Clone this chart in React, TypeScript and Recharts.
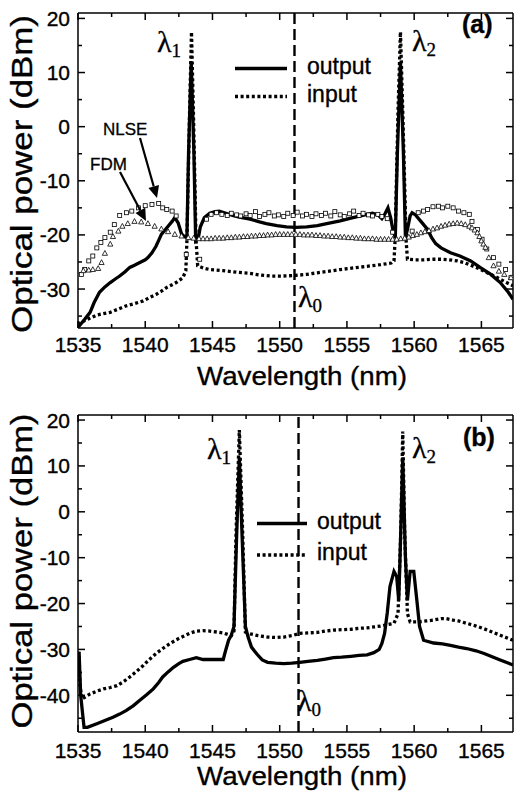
import { ComposedChart, Line, ReferenceLine, Scatter, XAxis, YAxis } from 'recharts';

// Spectra are [wavelength nm, power dBm] pairs.
const outputA = [
  [1535.0, -37.0], [1535.1, -36.8], [1535.5, -35.6], [1535.9, -34.3], [1536.2, -32.5], [1536.6, -30.6],
  [1537.0, -29.6], [1537.4, -28.8], [1537.8, -28.1], [1538.1, -27.6], [1538.5, -26.8], [1538.85, -26.0],
  [1539.2, -25.6], [1539.6, -25.1], [1540.0, -24.6], [1540.2, -24.2], [1540.5, -23.3], [1540.8, -22.1],
  [1541.0, -21.0], [1541.2, -19.9], [1541.5, -19.0], [1541.7, -18.4], [1542.0, -17.5], [1542.2, -16.8],
  [1542.45, -17.8], [1542.7, -19.8], [1542.9, -20.3], [1543.1, -20.5], [1543.22, -5], [1543.42, 12],
  [1543.62, -5], [1543.75, -21], [1543.95, -20.5], [1544.1, -18.5], [1544.4, -16.8], [1544.8, -16.0],
  [1545.2, -15.7], [1545.5, -15.6], [1546.0, -16.0], [1546.5, -16.4], [1547.0, -16.7], [1547.8, -17.1],
  [1548.5, -17.6], [1549.0, -17.9], [1549.8, -18.3], [1550.5, -18.5], [1551.2, -18.6], [1552.0, -18.5],
  [1552.8, -18.3], [1553.5, -17.9], [1554.5, -17.4], [1555.3, -16.9], [1556.0, -16.5], [1556.5, -16.2],
  [1556.9, -16.0], [1557.3, -16.3], [1557.6, -17.0], [1557.85, -16.0], [1558.05, -15.0], [1558.25, -16.8],
  [1558.45, -19.5], [1558.6, -20.3], [1558.75, -5], [1558.98, 12], [1559.2, -5], [1559.35, -20.5],
  [1559.5, -19.0], [1559.7, -16.5], [1559.85, -15.9], [1560.1, -16.3], [1560.5, -17.5], [1561.0, -19.0],
  [1561.3, -20.5], [1561.6, -21.6], [1562.0, -22.4], [1562.7, -23.3], [1563.4, -23.9], [1564.2, -24.8],
  [1564.9, -26.0], [1565.7, -27.3], [1566.4, -28.8], [1567.0, -30.6], [1567.35, -31.9],
];

const inputA = [
  [1535.0, -36.6], [1535.1, -36.3], [1535.7, -35.6], [1536.4, -34.8], [1537.4, -34.3], [1538.0, -33.7],
  [1538.6, -33.1], [1539.2, -32.7], [1539.85, -32.2], [1540.3, -31.6], [1540.8, -31.0], [1541.2, -30.4],
  [1541.6, -29.7], [1542.0, -29.2], [1542.3, -28.8], [1542.8, -27.9], [1543.02, -26.6], [1543.1, -21.0],
  [1543.3, 3], [1543.44, 17.5], [1543.58, 3], [1543.78, -21.0], [1543.9, -25.7], [1544.3, -26.1],
  [1544.8, -26.4], [1545.8, -26.6], [1546.8, -26.9], [1547.8, -27.1], [1548.5, -27.4], [1549.3, -27.6],
  [1550.2, -27.6], [1551.1, -27.5], [1552.0, -27.3], [1552.8, -27.0], [1553.7, -26.7], [1554.5, -26.4],
  [1555.5, -26.1], [1556.5, -25.8], [1557.5, -25.5], [1558.3, -25.2], [1558.5, -24.8], [1558.58, -21.0],
  [1558.8, 3], [1558.98, 17.5], [1559.15, 3], [1559.4, -21.0], [1559.5, -24.5], [1560.0, -24.6],
  [1560.7, -24.6], [1561.4, -24.5], [1562.0, -24.5], [1562.6, -24.6], [1563.2, -24.8], [1563.7, -25.1],
  [1564.2, -25.6], [1564.7, -26.1], [1565.2, -26.7], [1565.7, -27.3], [1566.2, -27.9], [1566.7, -28.6],
  [1567.35, -29.4],
];

// simulated spectra: NLSE (squares) and FDM (triangles)
const nlseA = [
  [1535.25, -27.3], [1535.5, -26.4], [1535.8, -24.8], [1536.1, -23.9], [1536.4, -22.4], [1536.7, -21.4],
  [1537.0, -20.5], [1537.4, -19.5], [1537.7, -18.1], [1538.1, -16.4], [1538.6, -15.9], [1539.0, -15.6],
  [1539.5, -15.0], [1540.0, -14.6], [1540.5, -14.4], [1541.0, -14.2], [1541.3, -15.0], [1541.6, -15.3],
  [1542.0, -15.6], [1542.3, -16.5], [1543.05, -23.6], [1544.05, -24.5], [1544.55, -17.1], [1544.9, -16.2],
  [1545.3, -15.9], [1545.7, -16.2], [1546.1, -16.4], [1546.4, -16.0], [1546.8, -16.3], [1547.1, -16.5],
  [1547.5, -16.1], [1547.8, -16.4], [1548.2, -15.7], [1548.5, -16.6], [1548.9, -16.2], [1549.2, -15.9],
  [1549.6, -16.5], [1549.9, -16.3], [1550.3, -16.6], [1550.6, -16.0], [1551.0, -16.4], [1551.3, -15.8],
  [1551.7, -16.5], [1552.0, -16.2], [1552.4, -16.6], [1552.7, -16.1], [1553.1, -16.4], [1553.4, -16.0],
  [1553.8, -16.5], [1554.1, -15.7], [1554.5, -16.3], [1554.8, -16.6], [1555.2, -16.1], [1555.5, -15.6],
  [1555.9, -16.4], [1556.2, -16.0], [1556.6, -16.3], [1556.9, -16.5], [1557.3, -16.2], [1557.6, -16.6],
  [1558.0, -17.0], [1558.4, -19.5], [1559.85, -19.3], [1560.3, -15.9], [1560.7, -15.6], [1561.0, -15.3],
  [1561.4, -14.8], [1561.8, -14.7], [1562.1, -15.0], [1562.5, -14.7], [1562.9, -15.0], [1563.3, -15.6],
  [1563.7, -15.9], [1564.1, -16.2], [1564.3, -17.5], [1564.7, -19.0], [1565.05, -20.8], [1565.4, -22.6],
  [1565.9, -24.2], [1566.3, -25.4], [1566.8, -26.4], [1567.2, -27.9],
];

const fdmA = [
  [1535.4, -26.6], [1535.8, -26.5], [1536.1, -26.4], [1536.5, -26.2], [1536.75, -25.1], [1537.0, -23.4],
  [1537.4, -21.7], [1537.6, -20.3], [1538.0, -19.3], [1538.3, -18.4], [1538.7, -17.9], [1539.2, -17.5],
  [1539.7, -17.6], [1540.2, -17.9], [1540.7, -18.4], [1541.2, -18.9], [1541.7, -19.4], [1542.2, -19.9],
  [1542.7, -20.2], [1543.2, -20.5], [1543.6, -20.6], [1544.0, -20.7], [1544.3, -20.7], [1544.6, -20.7],
  [1544.9, -20.7], [1545.2, -20.6], [1545.5, -20.6], [1545.8, -20.6], [1546.1, -20.5], [1546.4, -20.5],
  [1546.7, -20.4], [1547.0, -20.4], [1547.3, -20.3], [1547.6, -20.3], [1547.9, -20.2], [1548.2, -20.2],
  [1548.5, -20.1], [1548.8, -20.1], [1549.1, -20.0], [1549.4, -20.0], [1549.7, -19.9], [1550.0, -19.9],
  [1550.3, -19.9], [1550.6, -19.9], [1550.9, -19.9], [1551.2, -19.9], [1551.5, -19.9], [1551.8, -20.0],
  [1552.1, -20.0], [1552.4, -20.0], [1552.7, -20.1], [1553.0, -20.1], [1553.3, -20.2], [1553.6, -20.2],
  [1553.9, -20.3], [1554.2, -20.3], [1554.5, -20.4], [1554.8, -20.4], [1555.1, -20.5], [1555.4, -20.5],
  [1555.7, -20.6], [1556.0, -20.6], [1556.3, -20.7], [1556.6, -20.7], [1556.9, -20.7], [1557.2, -20.8],
  [1557.5, -20.8], [1557.8, -20.8], [1558.1, -20.8], [1558.4, -20.8], [1558.7, -20.8], [1559.0, -20.7],
  [1559.3, -20.6], [1559.6, -20.4], [1559.9, -20.1], [1560.2, -19.9], [1560.5, -19.6], [1560.8, -19.4],
  [1561.1, -19.2], [1561.4, -18.9], [1561.7, -18.7], [1562.0, -18.4], [1562.3, -18.2], [1562.6, -18.0],
  [1562.9, -17.9], [1563.2, -17.8], [1563.5, -17.9], [1563.8, -18.1], [1564.1, -18.4], [1564.3, -18.7],
  [1564.5, -19.1], [1564.7, -19.6], [1564.85, -20.3], [1565.0, -21.1], [1565.15, -21.7], [1565.3, -22.3],
  [1565.55, -24.2], [1565.9, -25.7], [1566.3, -26.7], [1566.7, -27.3], [1567.2, -27.9],
];

const outputB = [
  [1535.0, -36.0], [1535.08, -30.5], [1535.2, -40.0], [1535.45, -47.0], [1535.7, -47.0], [1536.4, -46.2],
  [1537.0, -45.5], [1537.6, -44.8], [1538.1, -44.1], [1538.6, -43.3], [1539.1, -42.3], [1539.6, -41.1],
  [1540.1, -39.9], [1540.6, -38.6], [1541.0, -37.2], [1541.3, -36.0], [1541.7, -34.9], [1542.1, -33.9],
  [1542.5, -33.1], [1542.8, -32.6], [1543.3, -32.2], [1543.8, -31.8], [1544.3, -32.2], [1545.05, -32.2],
  [1545.8, -32.2], [1546.0, -30.0], [1546.2, -28.0], [1546.4, -26.9], [1546.6, -25.0], [1546.8, -5],
  [1547.0, 11.8], [1547.2, -5], [1547.45, -25.0], [1547.65, -27.3], [1547.9, -29.5], [1548.3, -31.0],
  [1548.7, -32.3], [1549.1, -32.8], [1549.7, -33.0], [1550.3, -33.1], [1550.9, -33.0], [1551.5, -32.8],
  [1552.1, -32.6], [1552.8, -32.4], [1553.4, -32.1], [1554.0, -31.8], [1554.6, -31.7], [1555.3, -31.5],
  [1555.9, -31.3], [1556.5, -31.2], [1557.0, -30.7], [1557.4, -30.0], [1557.6, -28.7], [1557.8, -26.5],
  [1558.0, -22.0], [1558.2, -16.3], [1558.5, -13.0], [1558.7, -14.1], [1558.85, -19.3], [1558.95, -10],
  [1559.15, 11.8], [1559.35, -10], [1559.5, -19.3], [1559.7, -13.0], [1559.97, -13.0], [1560.2, -19.3],
  [1560.4, -25.0], [1560.7, -28.0], [1561.45, -28.6], [1562.1, -28.8], [1562.7, -29.1], [1563.3, -29.5],
  [1563.9, -29.8], [1564.6, -30.3], [1565.2, -30.9], [1565.8, -31.6], [1566.4, -32.3], [1567.35, -33.4],
];

const inputB = [
  [1535.0, -37.0], [1535.05, -30.5], [1535.15, -38.0], [1535.3, -40.8], [1535.9, -39.7], [1536.4, -39.1],
  [1536.9, -38.6], [1537.4, -38.3], [1537.9, -37.9], [1538.4, -37.0], [1538.85, -36.0], [1539.35, -34.8],
  [1539.85, -33.5], [1540.3, -32.2], [1540.8, -30.9], [1541.3, -29.8], [1541.8, -28.8], [1542.3, -27.9],
  [1542.8, -27.2], [1543.3, -26.5], [1543.8, -26.0], [1544.3, -25.9], [1544.8, -26.0], [1545.3, -26.2],
  [1545.8, -26.4], [1546.4, -27.0], [1546.6, -26.0], [1546.75, -5], [1547.0, 17.8], [1547.25, -5],
  [1547.45, -26.2], [1547.8, -26.6], [1548.4, -27.0], [1549.1, -27.3], [1549.7, -27.4], [1550.3, -27.3],
  [1550.9, -27.0], [1551.5, -26.5], [1552.1, -26.4], [1552.8, -26.3], [1553.4, -26.0], [1554.0, -25.8],
  [1554.6, -25.7], [1555.3, -25.6], [1555.9, -25.4], [1556.5, -25.3], [1557.0, -25.1], [1557.5, -24.9],
  [1558.0, -24.6], [1558.5, -24.3], [1558.8, -22.2], [1559.0, -5], [1559.15, 17.5], [1559.3, -5],
  [1559.5, -22.2], [1559.7, -24.0], [1560.3, -24.0], [1560.9, -23.8], [1561.45, -23.6], [1562.0, -23.3],
  [1562.4, -23.3], [1562.9, -23.6], [1563.3, -23.8], [1563.9, -24.3], [1564.5, -24.8], [1565.2, -25.5],
  [1565.8, -26.2], [1566.4, -26.9], [1567.35, -28.0],
];

const xTicks = [1535, 1537.5, 1540, 1542.5, 1545, 1547.5, 1550, 1552.5, 1555, 1557.5, 1560, 1562.5, 1565];
const yTicksA = [-35, -30, -25, -20, -15, -10, -5, 0, 5, 10, 15, 20];
const yTicksB = [-45, -40, -35, -30, -25, -20, -15, -10, -5, 0, 5, 10, 15, 20];
const xDomain: [number, number] = [1535, 1567.35];
const lambdaZeroA = 1551.1;
const lambdaZeroB = 1551.4;

const SANS = '"Liberation Sans", Arial, sans-serif';
const SERIF = '"Liberation Serif", "Times New Roman", serif';
const WIDTH = 514;
const LEFT = 78;
const RIGHT = 1;
const PLOT_W = WIDTH - LEFT - RIGHT;
const TICK_MAJOR = 7;
const TICK_MINOR = 4;
const INK = 0.35; // slight stroke on text to thicken the glyphs

const pts = (rows: number[][]) => rows.map(([x, y]) => ({ x, y }));

type TickProps = { x: number; y: number; payload: { value: number } };

// x ticks: inward marks on the bottom and mirrored on the top edge
const xTick = (plotH: number, labelGap: number) => (p: TickProps) => {
  const v = p.payload.value;
  const major = v % 5 === 0;
  const l = major ? TICK_MAJOR : TICK_MINOR;
  const top = p.y - plotH;
  return (
    <g>
      <line x1={p.x} x2={p.x} y1={p.y} y2={p.y - l} stroke="#000" strokeWidth={1.5} />
      <line x1={p.x} x2={p.x} y1={top} y2={top + l} stroke="#000" strokeWidth={1.5} />
      {major && (
        <text x={p.x} y={p.y + labelGap} textAnchor="middle" fontFamily={SANS} fontSize={21}
          fill="#000" stroke="#000" strokeWidth={INK}>
          {v}
        </text>
      )}
    </g>
  );
};

// y ticks: inward marks on the left and mirrored on the right edge
const yTick = (p: TickProps) => {
  const v = p.payload.value;
  const major = v % 10 === 0;
  const l = major ? TICK_MAJOR : TICK_MINOR;
  const right = p.x + PLOT_W;
  return (
    <g>
      <line x1={p.x} x2={p.x + l} y1={p.y} y2={p.y} stroke="#000" strokeWidth={1.5} />
      <line x1={right} x2={right - l} y1={p.y} y2={p.y} stroke="#000" strokeWidth={1.5} />
      {major && (
        <text x={p.x - 8} y={p.y} dy="0.36em" textAnchor="end" fontFamily={SANS} fontSize={21}
          fill="#000" stroke="#000" strokeWidth={INK}>
          {v}
        </text>
      )}
    </g>
  );
};

const square = (p: { cx?: number; cy?: number }) => (
  <rect x={(p.cx ?? 0) - 2} y={(p.cy ?? 0) - 2} width={4} height={4} fill="#fff" stroke="#000" strokeWidth={0.8} />
);

const triangle = (p: { cx?: number; cy?: number }) => {
  const cx = p.cx ?? 0;
  const cy = p.cy ?? 0;
  return (
    <polygon
      points={`${cx},${cy - 2.8} ${cx - 2.6},${cy + 2} ${cx + 2.6},${cy + 2}`}
      fill="#fff"
      stroke="#000"
      strokeWidth={0.8}
    />
  );
};

type PanelProps = {
  height: number;
  top: number;
  xAxisHeight: number;
  labelGap: number;
  yDomain: [number, number];
  yTicks: number[];
  lambdaZero: number;
  output: number[][];
  input: number[][];
  nlse?: number[][];
  fdm?: number[][];
};

function Panel(props: PanelProps) {
  const plotH = props.height - props.top - props.xAxisHeight;
  return (
    <ComposedChart
      width={WIDTH}
      height={props.height}
      margin={{ top: props.top, right: RIGHT, bottom: 0, left: 0 }}
    >
      <XAxis
        type="number"
        dataKey="x"
        domain={xDomain}
        allowDataOverflow
        ticks={xTicks}
        interval={0}
        height={props.xAxisHeight}
        tickSize={0}
        tickMargin={0}
        tickLine={false}
        axisLine={{ stroke: '#000', strokeWidth: 1.5 }}
        tick={xTick(plotH, props.labelGap)}
      />
      <YAxis
        type="number"
        domain={props.yDomain}
        allowDataOverflow
        ticks={props.yTicks}
        interval={0}
        width={LEFT}
        tickSize={0}
        tickMargin={0}
        tickLine={false}
        axisLine={{ stroke: '#000', strokeWidth: 1.5 }}
        tick={yTick}
      />
      {/* top and right frame */}
      <ReferenceLine y={props.yDomain[1]} stroke="#000" strokeWidth={1.5} ifOverflow="extendDomain" />
      <ReferenceLine x={xDomain[1]} stroke="#000" strokeWidth={1.5} ifOverflow="extendDomain" />
      <ReferenceLine x={props.lambdaZero} stroke="#000" strokeWidth={2.4} strokeDasharray="11 5" />
      {props.nlse && (
        <Scatter data={pts(props.nlse)} dataKey="y" shape={square} isAnimationActive={false} />
      )}
      {props.fdm && (
        <Scatter data={pts(props.fdm)} dataKey="y" shape={triangle} isAnimationActive={false} />
      )}
      <Line
        data={pts(props.input)}
        dataKey="y"
        type="linear"
        dot={false}
        stroke="#000"
        strokeWidth={3.3}
        strokeDasharray="3 2.6"
        isAnimationActive={false}
      />
      <Line
        data={pts(props.output)}
        dataKey="y"
        type="linear"
        dot={false}
        stroke="#000"
        strokeWidth={3.3}
        isAnimationActive={false}
      />
    </ComposedChart>
  );
}

function Lambda({ x, y, sub }: { x: number; y: number; sub: string }) {
  return (
    <text x={x} y={y} fontFamily={SERIF} fontSize={30} fill="#000" stroke="#000" strokeWidth={0.3}>
      λ
      <tspan fontSize={19} dy={5}>
        {sub}
      </tspan>
    </text>
  );
}

function Arrow({ x1, y1, x2, y2 }: { x1: number; y1: number; x2: number; y2: number }) {
  const a = Math.atan2(y2 - y1, x2 - x1);
  const len = 12;
  const half = 5.5;
  const bx = x2 - len * Math.cos(a);
  const by = y2 - len * Math.sin(a);
  const nx = -Math.sin(a) * half;
  const ny = Math.cos(a) * half;
  return (
    <g>
      <line x1={x1} y1={y1} x2={bx} y2={by} stroke="#000" strokeWidth={2.2} />
      <polygon points={`${x2},${y2} ${bx + nx},${by + ny} ${bx - nx},${by - ny}`} fill="#000" />
    </g>
  );
}

function Legend({ x, y1, y2, len, gap }: { x: number; y1: number; y2: number; len: number; gap: number }) {
  return (
    <g fontFamily={SANS} fontSize={23} fill="#000" stroke="#000" strokeWidth={INK}>
      <line x1={x} x2={x + len} y1={y1} y2={y1} strokeWidth={3.6} />
      <text x={x + len + gap} y={y1 + 5}>output</text>
      <line x1={x} x2={x + len} y1={y2} y2={y2} strokeWidth={3.6} strokeDasharray="3 2.6" />
      <text x={x + len + gap} y={y2 + 5}>input</text>
    </g>
  );
}

function Annotations() {
  return (
    <svg width={514} height={794} style={{ position: 'absolute', left: 0, top: 0, pointerEvents: 'none' }}>
      {/* axis titles and panel tags */}
      <g fontFamily={SANS} fill="#000" stroke="#000" strokeWidth={INK}>
        <text transform="translate(31.5,174) rotate(-90)" textAnchor="middle" fontSize={30} textLength={318} lengthAdjust="spacingAndGlyphs">
          Optical power (dBm)
        </text>
        <text x={302} y={385} textAnchor="middle" fontSize={26} textLength={210} lengthAdjust="spacingAndGlyphs">
          Wavelength (nm)
        </text>
        <text transform="translate(31.5,571) rotate(-90)" textAnchor="middle" fontSize={30} textLength={315} lengthAdjust="spacingAndGlyphs">
          Optical power (dBm)
        </text>
        <text x={302} y={785} textAnchor="middle" fontSize={26} textLength={210} lengthAdjust="spacingAndGlyphs">
          Wavelength (nm)
        </text>
        <text x={462} y={33} fontSize={25} fontWeight="bold">(a)</text>
        <text x={463} y={446} fontSize={25} fontWeight="bold">(b)</text>
      </g>

      <Legend x={235} y1={68.5} y2={96.5} len={52} gap={20} />
      <Legend x={257} y1={523.5} y2={555} len={50} gap={10} />

      <Lambda x={157} y={52} sub="1" />
      <Lambda x={412} y={51} sub="2" />
      <Lambda x={298} y={307} sub="0" />
      <Lambda x={207} y={459} sub="1" />
      <Lambda x={412} y={458} sub="2" />
      <Lambda x={297} y={711} sub="0" />

      <g fontFamily={SANS} fontSize={17} fill="#000" stroke="#000" strokeWidth={0.3}>
        <text x={103} y={135}>NLSE</text>
        <text x={90} y={170}>FDM</text>
      </g>
      <Arrow x1={140} y1={138} x2={157} y2={198} />
      <Arrow x1={120} y1={172} x2={146} y2={221} />
    </svg>
  );
}

export default function App() {
  return (
    <div style={{ position: 'absolute', left: 0, top: 0, width: 514, height: 794, background: '#fff' }}>
      <div style={{ position: 'absolute', left: 0, top: 0 }}>
        <Panel
          height={400}
          top={13}
          xAxisHeight={72}
          labelGap={23.5}
          yDomain={[-37.2, 21]}
          yTicks={yTicksA}
          lambdaZero={lambdaZeroA}
          output={outputA}
          input={inputA}
          nlse={nlseA}
          fdm={fdmA}
        />
      </div>
      <div style={{ position: 'absolute', left: 0, top: 400 }}>
        <Panel
          height={394}
          top={15}
          xAxisHeight={62}
          labelGap={26}
          yDomain={[-48, 21.1]}
          yTicks={yTicksB}
          lambdaZero={lambdaZeroB}
          output={outputB}
          input={inputB}
        />
      </div>
      <Annotations />
    </div>
  );
}
